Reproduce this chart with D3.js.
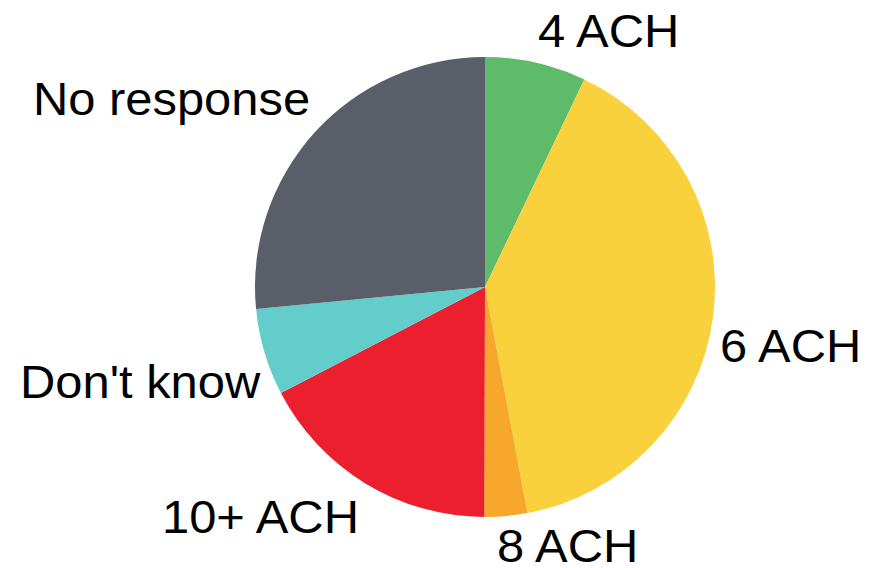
<!DOCTYPE html>
<html>
<head>
<meta charset="utf-8">
<script src="https://cdn.jsdelivr.net/npm/d3@7"></script>
<style>
  body { margin: 0; background: #fff; }
  text { font-family: "Liberation Sans", Arial, sans-serif; }
</style>
</head>
<body>
<div id="chart"></div>
<script>
// survey shares (%), clockwise from 12 o'clock
const categories = ["4 ACH", "6 ACH", "8 ACH", "10+ ACH", "Don't know", "No response"];
const shares = [7.1, 39.9, 3.0, 17.3, 6.1, 26.5];
const colors = ["#5ebb69", "#f9d13c", "#f7a72b", "#eb1f2e", "#63cdcb", "#5a5e68"];

const width = 877, height = 568;
const cx = 485, cy = 287, radius = 230;

// label placement: offset from the pie centre (start anchored, baseline)
const labelPos = {
    "4 ACH": [53, -240],
    "6 ACH": [235, 75],
    "8 ACH": [12, 275],
    "10+ ACH": [-323, 246],
    "Don't know": [-465, 111],
    "No response": [-452, -172]
};

const data = categories.map((c, i) => ({ name: c, value: shares[i], color: colors[i] }));

const svg = d3.select("#chart").append("svg")
    .attr("width", width)
    .attr("height", height);

const pie = d3.pie().value(d => d.value).sort(null);
const arc = d3.arc().innerRadius(0).outerRadius(radius);

const g = svg.append("g").attr("transform", `translate(${cx},${cy})`);

g.selectAll("path")
    .data(pie(data))
    .join("path")
    .attr("d", arc)
    .attr("fill", d => d.data.color);

// labels are a touch wider than plain Arial in the original
g.selectAll("text")
    .data(data)
    .join("text")
    .attr("transform", d => `translate(${labelPos[d.name][0]},${labelPos[d.name][1]}) scale(1.04,1)`)
    .attr("font-size", 47)
    .attr("fill", "#000")
    .text(d => d.name);
</script>
</body>
</html>
